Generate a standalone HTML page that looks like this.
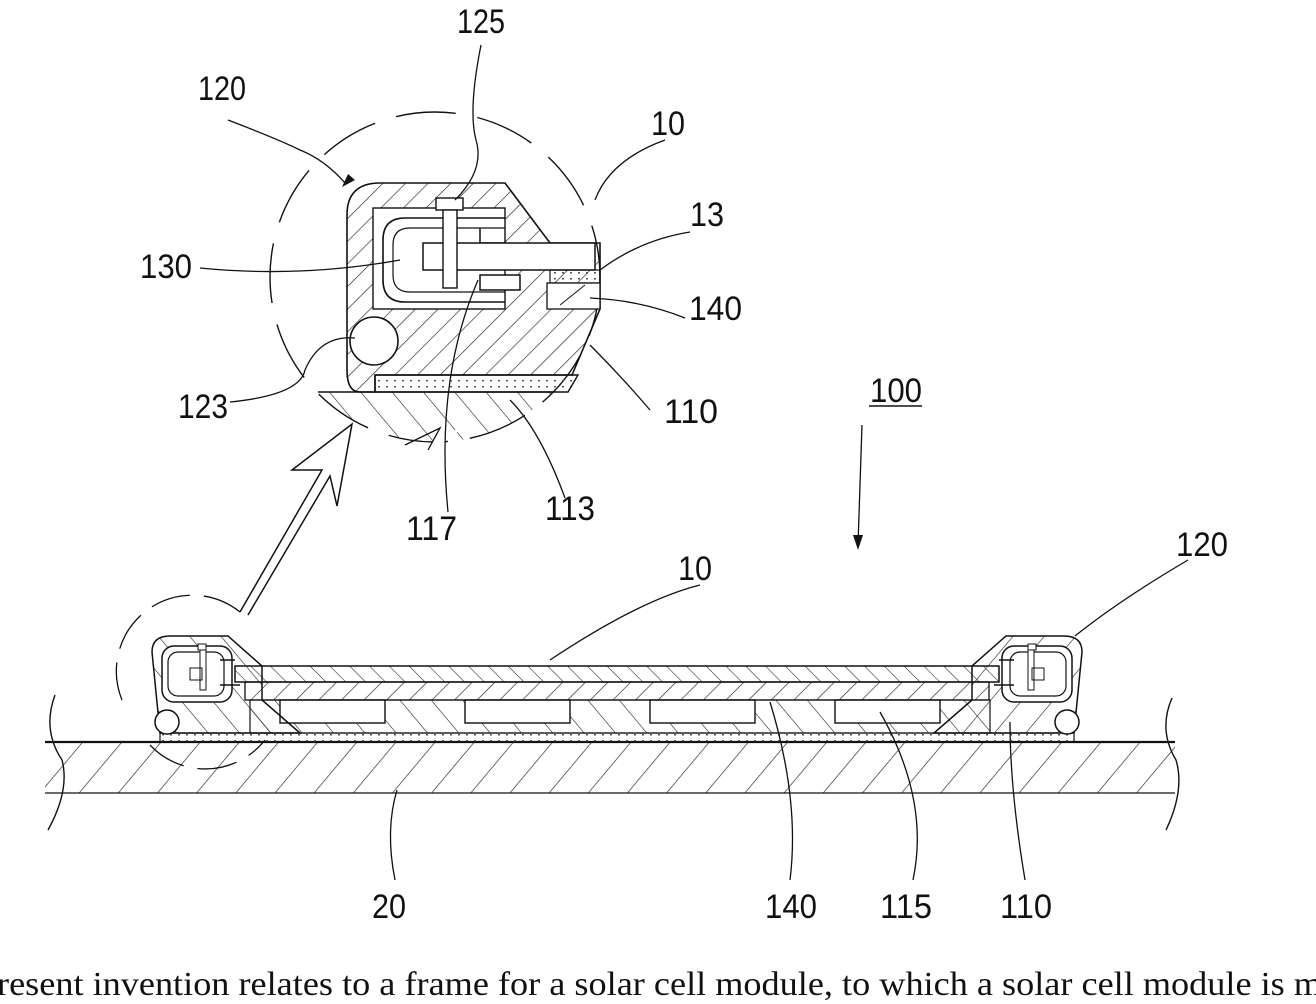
<!DOCTYPE html>
<html><head><meta charset="utf-8"><style>
html,body{margin:0;padding:0;background:#fff;}
svg{display:block;}
text{font-family:"Liberation Sans",sans-serif;font-size:34px;fill:#111;}
.s{font-family:"Liberation Serif",serif;}
</style></head><body>
<svg width="1316" height="1004" viewBox="0 0 1316 1004" xmlns="http://www.w3.org/2000/svg">
<defs>
<pattern id="h1" width="16" height="16" patternUnits="userSpaceOnUse" patternTransform="rotate(45)"><line x1="0" y1="0" x2="0" y2="16" stroke="#222" stroke-width="1.3"/></pattern>
<pattern id="h2" width="14" height="14" patternUnits="userSpaceOnUse" patternTransform="rotate(-45)"><line x1="0" y1="0" x2="0" y2="14" stroke="#222" stroke-width="1.1"/></pattern>
<pattern id="h3" width="30" height="30" patternUnits="userSpaceOnUse" patternTransform="rotate(40)"><line x1="0" y1="0" x2="0" y2="30" stroke="#222" stroke-width="1.3"/></pattern>
<pattern id="h4" width="24" height="24" patternUnits="userSpaceOnUse" patternTransform="rotate(-40)"><line x1="0" y1="0" x2="0" y2="24" stroke="#222" stroke-width="1.2"/></pattern>
<pattern id="dt" width="8" height="6" patternUnits="userSpaceOnUse"><rect x="2" y="2" width="2" height="1.5" fill="#555"/></pattern>
<clipPath id="cc"><circle cx="435" cy="277" r="165"/></clipPath>
<g id="fr">
 <path d="M152,652 Q152,636 170,636 L228,636 L262,666 L262,700 L300,733 L160,733 Z" fill="url(#h4)" stroke="#111" stroke-width="1.5"/>
 <rect x="162" y="646" width="70" height="56" rx="12" fill="#fff" stroke="#111" stroke-width="1.5"/>
 <rect x="168" y="652" width="56" height="44" rx="10" fill="none" stroke="#111" stroke-width="1.2"/>
 <rect x="198" y="644" width="8" height="6" fill="#fff" stroke="#111"/>
 <rect x="200" y="650" width="6" height="40" fill="#fff" stroke="#111"/>
 <rect x="190" y="668" width="12" height="12" fill="none" stroke="#111"/>
 <path d="M220,660 L235,660 M220,685 L240,685" stroke="#111" stroke-width="1.5"/>
 <circle cx="167" cy="722" r="12" fill="#fff" stroke="#111" stroke-width="1.5"/>
</g>
</defs>

<!-- ===== Detail view ===== -->
<circle cx="435" cy="277" r="165" fill="none" stroke="#111" stroke-width="1.4" stroke-dasharray="60,22"/>
<g clip-path="url(#cc)">
 <polygon points="318,392 620,392 620,460 318,460" fill="url(#h4)"/>
 <line x1="318" y1="392" x2="620" y2="392" stroke="#111" stroke-width="1.5"/>
</g>
<polygon points="380,430 440,430 420,460 460,430" fill="#fff"/>
<path d="M347,215 Q347,183 380,183 L505,183 L550,243 L600,243 L600,309 L572,375 L375,375 L375,392 L360,392 Q347,392 347,370 Z" fill="url(#h1)" stroke="#111" stroke-width="1.6"/>
<!-- cavity -->
<rect x="373" y="208" width="132" height="101" fill="#fff" stroke="#111" stroke-width="1.4"/>
<path d="M505,218 L405,218 Q383,218 383,240 L383,280 Q383,302 405,302 L505,302" fill="none" stroke="#111" stroke-width="1.6"/>
<path d="M505,228 L410,228 Q393,228 393,245 L393,275 Q393,292 410,292 L505,292" fill="none" stroke="#111" stroke-width="1.2"/>
<!-- hooks -->
<path d="M480,228 L480,243 L505,243 M480,290 L480,275 L520,275 L520,290 Z" fill="#fff" stroke="#111" stroke-width="1.5"/>
<!-- glass -->
<rect x="423" y="243" width="172" height="27" fill="#fff" stroke="#111" stroke-width="1.5"/>
<rect x="550" y="270" width="50" height="13" fill="url(#dt)" stroke="#111" stroke-width="1.2"/>
<rect x="547" y="283" width="53" height="26" fill="#fff" stroke="#111" stroke-width="1.3"/>
<line x1="560" y1="305" x2="585" y2="285" stroke="#111" stroke-width="1"/>
<!-- bolt -->
<rect x="436" y="198" width="27" height="12" fill="#fff" stroke="#111" stroke-width="1.4"/>
<rect x="443" y="210" width="14" height="78" fill="#fff" stroke="#111" stroke-width="1.4"/>
<!-- ball -->
<circle cx="374" cy="341" r="24" fill="#fff" stroke="#111" stroke-width="1.6"/>
<!-- plate 113 -->
<polygon points="375,375 578,375 568,392 375,392" fill="url(#dt)" stroke="#111" stroke-width="1.4"/>
<!-- break lines -->
<path d="M405,445 L440,428 L428,450" fill="none" stroke="#111" stroke-width="1.3"/>

<!-- arrow -->
<path d="M240,612 L322,470 L292,470 L352,424 L337,506 L330,476 L248,615" fill="none" stroke="#111" stroke-width="1.5"/>

<!-- ===== Bottom assembly ===== -->
<rect x="45" y="742" width="1130" height="51" fill="url(#h3)"/>
<line x1="45" y1="742" x2="1175" y2="742" stroke="#111" stroke-width="2.2"/>
<line x1="45" y1="793" x2="1175" y2="793" stroke="#111" stroke-width="1.3"/>
<path d="M55,695 Q42,730 62,760 Q70,790 48,830" fill="none" stroke="#111" stroke-width="1.4"/>
<path d="M1172,698 Q1158,730 1176,760 Q1185,790 1166,830" fill="none" stroke="#111" stroke-width="1.4"/>
<rect x="160" y="733" width="914" height="9" fill="url(#dt)" stroke="#111" stroke-width="1.2"/>
<rect x="250" y="700" width="740" height="33" fill="url(#h4)" stroke="#111" stroke-width="1.2"/>
<rect x="280" y="700" width="105" height="23" fill="#fff" stroke="#111" stroke-width="1.4"/>
<rect x="465" y="700" width="105" height="23" fill="#fff" stroke="#111" stroke-width="1.4"/>
<rect x="650" y="700" width="105" height="23" fill="#fff" stroke="#111" stroke-width="1.4"/>
<rect x="835" y="700" width="105" height="23" fill="#fff" stroke="#111" stroke-width="1.4"/>
<rect x="245" y="682" width="744" height="18" fill="url(#h1)" stroke="#111" stroke-width="1.3"/>
<rect x="235" y="666" width="764" height="16" fill="url(#h2)" stroke="#111" stroke-width="1.5"/>
<use href="#fr"/>
<use href="#fr" transform="translate(1234,0) scale(-1,1)"/>
<path d="M240,612 A76,76 0 0 0 122,700 M150,745 A76,76 0 0 0 265,740" fill="none" stroke="#111" stroke-width="1.3" stroke-dasharray="40,14"/>

<!-- leaders -->
<g fill="none" stroke="#111" stroke-width="1.3">
<path d="M228,120 Q280,140 300,150 Q325,160 345,183"/>
<path d="M481,45 Q468,110 476,140 Q485,170 455,200"/>
<path d="M665,140 Q610,160 595,200"/>
<path d="M690,232 Q640,240 600,270"/>
<path d="M685,318 Q640,300 590,298"/>
<path d="M200,268 Q300,278 400,260"/>
<path d="M230,402 Q300,395 305,370 Q320,335 355,338"/>
<path d="M650,410 Q620,375 590,345"/>
<path d="M448,512 Q435,380 478,280"/>
<path d="M565,498 Q540,430 510,400"/>
<path d="M862,425 L858,545"/>
<path d="M700,585 Q640,600 550,660"/>
<path d="M1188,560 Q1120,600 1075,636"/>
<path d="M395,880 Q385,830 397,790"/>
<path d="M790,880 Q800,800 770,702"/>
<path d="M913,880 Q930,800 880,712"/>
<path d="M1025,880 Q1010,790 1010,722"/>
</g>
<polygon points="342,187 348,174 355,180" fill="#111"/>
<polygon points="858,550 853,535 863,535" fill="#111"/>

<!-- labels -->
<text x="457" y="33" textLength="48" lengthAdjust="spacingAndGlyphs">125</text>
<text x="198" y="100" textLength="48" lengthAdjust="spacingAndGlyphs">120</text>
<text x="651" y="135" textLength="34" lengthAdjust="spacingAndGlyphs">10</text>
<text x="690" y="226" textLength="34" lengthAdjust="spacingAndGlyphs">13</text>
<text x="140" y="278" textLength="52" lengthAdjust="spacingAndGlyphs">130</text>
<text x="689" y="320" textLength="53" lengthAdjust="spacingAndGlyphs">140</text>
<text x="178" y="418" textLength="50" lengthAdjust="spacingAndGlyphs">123</text>
<text x="664" y="423" textLength="54" lengthAdjust="spacingAndGlyphs">110</text>
<text x="870" y="402" textLength="52" lengthAdjust="spacingAndGlyphs">100</text>
<line x1="869" y1="406" x2="922" y2="406" stroke="#111" stroke-width="1.6"/>
<text x="545" y="520" textLength="50" lengthAdjust="spacingAndGlyphs">113</text>
<text x="406" y="540" textLength="51" lengthAdjust="spacingAndGlyphs">117</text>
<text x="1176" y="556" textLength="52" lengthAdjust="spacingAndGlyphs">120</text>
<text x="678" y="580" textLength="34" lengthAdjust="spacingAndGlyphs">10</text>
<text x="372" y="918" textLength="34" lengthAdjust="spacingAndGlyphs">20</text>
<text x="765" y="918" textLength="52" lengthAdjust="spacingAndGlyphs">140</text>
<text x="880" y="918" textLength="52" lengthAdjust="spacingAndGlyphs">115</text>
<text x="1000" y="918" textLength="52" lengthAdjust="spacingAndGlyphs">110</text>
<text class="s" x="-3" y="995" textLength="1325" lengthAdjust="spacingAndGlyphs">resent invention relates to a frame for a solar cell module, to which a solar cell module is m</text>
</svg>
</body></html>
